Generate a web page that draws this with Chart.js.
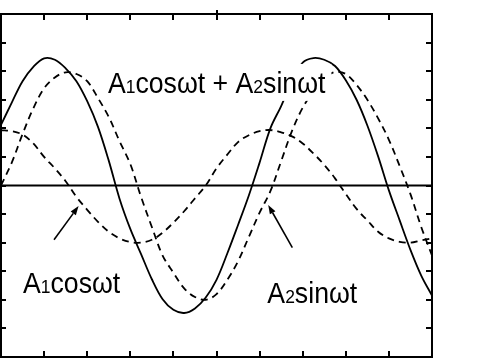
<!DOCTYPE html>
<html>
<head>
<meta charset="utf-8">
<script src="https://cdn.jsdelivr.net/npm/chart.js@4/dist/chart.umd.min.js"></script>
<style>
    html, body { margin: 0; padding: 0; background: #fff; }
    canvas { display: block; }
</style>
</head>
<body>
<canvas id="chart" width="482" height="359"></canvas>
<script>
// phase axis (tick units) and the three curves
let tValues = [0, 0.25, 0.5, 0.75, 1, 1.25, 1.5, 1.75, 2, 2.25, 2.5, 2.75, 3, 3.25, 3.5, 3.75, 4, 4.25, 4.5, 4.75,
    5, 5.25, 5.5, 5.75, 6, 6.25, 6.5, 6.75, 7, 7.25, 7.5, 7.75, 8, 8.25, 8.5, 8.75, 9, 9.25, 9.5, 9.75, 10];
let cosValues = [1.94, 1.9, 1.78, 1.47, 1.0, 0.6, 0.15, -0.4, -0.85, -1.27, -1.62, -1.85, -1.98, -2.0, -1.9, -1.65, -1.3, -0.9, -0.45, 0.0,
    0.6, 1.08, 1.52, 1.76, 1.9, 1.94, 1.86, 1.72, 1.47, 1.12, 0.72, 0.25, -0.3, -0.82, -1.22, -1.62, -1.85, -1.97, -2.0, -1.92, -1.85];
let sinValues = [0, 0.8, 1.8, 2.7, 3.4, 3.78, 3.96, 3.9, 3.65, 3.06, 2.4, 1.55, 0.75, -0.4, -1.45, -2.45, -3.05, -3.6, -3.9, -4.0,
    -3.8, -3.3, -2.65, -1.8, -0.95, -0.2, 0.85, 1.9, 2.72, 3.3, 3.75, 3.97, 3.9, 3.52, 3.0, 2.35, 1.6, 0.68, -0.3, -1.45, -2.45];
let sumValues = [2.12, 2.9, 3.65, 4.15, 4.45, 4.4, 4.1, 3.65, 2.95, 2.05, 0.87, -0.46, -1.52, -2.4, -3.28, -3.98, -4.35, -4.46, -4.3, -3.92,
    -3.3, -2.38, -1.38, -0.35, 0.8, 2.0, 2.78, 3.65, 4.3, 4.46, 4.4, 4.18, 3.68, 3.0, 2.1, 1.02, -0.17, -1.22, -2.25, -3.15, -3.85];

let xTicks = [1, 2, 3, 4, 5, 6, 7, 8, 9];
let yTicks = [-5, -4, -3, -2, -1, 0, 1, 2, 3, 4, 5];

// labels: text with {digit} as small digit, position in data units (left, baseline)
let labels = [
    { text: "A{1}cosωt + A{2}sinωt", x: 2.48, y: 3.24, box: true },
    { text: "A{1}cosωt", x: 0.51, y: -3.75, box: false },
    { text: "A{2}sinωt", x: 6.18, y: -4.1, box: false }
];
// arrows: from (x1,y1) to head at (x2,y2), data units
let arrows = [
    { x1: 1.23, y1: -1.9, x2: 1.8, y2: -0.72 },
    { x1: 6.76, y1: -2.17, x2: 6.2, y2: -0.68 }
];

let toPoints = function(values) {
    return values.map(function(v, i) { return { x: tValues[i], y: v }; });
};

let bigFont = "29px 'Liberation Sans', Arial, sans-serif";
let smallFont = "19px 'Liberation Sans', Arial, sans-serif";
let squeeze = 0.92;

let splitLabel = function(text) {
    let parts = [];
    text.split(/(\{\d\})/).forEach(function(p) {
        if (p === "") return;
        if (p.charAt(0) === "{") {
            parts.push({ s: p.slice(1, -1), font: smallFont });
        } else {
            parts.push({ s: p, font: bigFont });
        }
    });
    return parts;
};

let annotations = {
    id: "annotations",
    afterDatasetsDraw: function(chart) {
        let ctx = chart.ctx;
        let xs = chart.scales.x, ys = chart.scales.y;
        ctx.save();

        labels.forEach(function(lb) {
            let px = xs.getPixelForValue(lb.x);
            let py = ys.getPixelForValue(lb.y);
            let parts = splitLabel(lb.text);
            let width = 0;
            parts.forEach(function(p) {
                ctx.font = p.font;
                p.w = ctx.measureText(p.s).width * squeeze;
                width += p.w;
            });
            if (lb.box) {
                ctx.fillStyle = "#fff";
                ctx.fillRect(px - 4, py - 29, width + 10, 37);
            }
            ctx.fillStyle = "#000";
            ctx.textBaseline = "alphabetic";
            let cx = px;
            parts.forEach(function(p) {
                ctx.save();
                ctx.translate(cx, py);
                ctx.scale(squeeze, 1);
                ctx.font = p.font;
                ctx.fillText(p.s, 0, 0);
                ctx.restore();
                cx += p.w;
            });
        });

        ctx.strokeStyle = "#000";
        ctx.fillStyle = "#000";
        ctx.lineWidth = 1.6;
        arrows.forEach(function(a) {
            let x1 = xs.getPixelForValue(a.x1), y1 = ys.getPixelForValue(a.y1);
            let x2 = xs.getPixelForValue(a.x2), y2 = ys.getPixelForValue(a.y2);
            let ang = Math.atan2(y2 - y1, x2 - x1);
            let len = 9, half = 3.2;
            let bx = x2 - len * Math.cos(ang), by = y2 - len * Math.sin(ang);
            ctx.beginPath();
            ctx.moveTo(x1, y1);
            ctx.lineTo(bx, by);
            ctx.stroke();
            ctx.beginPath();
            ctx.moveTo(x2, y2);
            ctx.lineTo(bx + half * Math.sin(ang), by - half * Math.cos(ang));
            ctx.lineTo(bx - half * Math.sin(ang), by + half * Math.cos(ang));
            ctx.closePath();
            ctx.fill();
        });
        ctx.restore();
    }
};

let frame = {
    id: "frame",
    afterDraw: function(chart) {
        let ctx = chart.ctx;
        let a = chart.chartArea;
        let xs = chart.scales.x, ys = chart.scales.y;
        ctx.save();
        ctx.strokeStyle = "#000";
        ctx.lineWidth = 2;
        ctx.strokeRect(a.left, a.top, a.right - a.left, a.bottom - a.top);
        ctx.beginPath();
        xTicks.forEach(function(v) {
            let px = Math.round(xs.getPixelForValue(v));
            ctx.moveTo(px, a.top);
            ctx.lineTo(px, a.top + 6);
            ctx.moveTo(px, a.bottom);
            ctx.lineTo(px, a.bottom - 6);
        });
        yTicks.forEach(function(v) {
            let py = Math.round(ys.getPixelForValue(v));
            ctx.moveTo(a.left, py);
            ctx.lineTo(a.left + 5, py);
            ctx.moveTo(a.right, py);
            ctx.lineTo(a.right - 6, py);
        });
        // small mark above the middle top tick
        let mid = Math.round(xs.getPixelForValue(5));
        ctx.moveTo(mid, a.top - 4);
        ctx.lineTo(mid, a.top);
        ctx.stroke();
        ctx.restore();
    }
};

let lineStyle = function(data, dashed, width) {
    return {
        data: data,
        borderColor: "#000",
        borderWidth: width,
        borderDash: dashed ? [7, 5] : [],
        pointRadius: 0,
        fill: false,
        tension: 0.35
    };
};

new Chart(document.querySelector("#chart").getContext("2d"), {
    type: "line",
    data: {
        datasets: [
            lineStyle([{ x: 0, y: 0 }, { x: 10, y: 0 }], false, 2),
            lineStyle(toPoints(cosValues), true, 1.8),
            lineStyle(toPoints(sinValues), true, 1.8),
            lineStyle(toPoints(sumValues), false, 1.8)
        ]
    },
    options: {
        responsive: false,
        devicePixelRatio: 1,
        animation: false,
        events: [],
        layout: { padding: { left: 1, right: 50, top: 14, bottom: 2 } },
        plugins: {
            legend: { display: false },
            tooltip: { enabled: false }
        },
        scales: {
            x: { type: "linear", min: 0, max: 10, display: false },
            y: { type: "linear", min: -6, max: 6, display: false }
        }
    },
    plugins: [annotations, frame]
});
</script>
</body>
</html>
